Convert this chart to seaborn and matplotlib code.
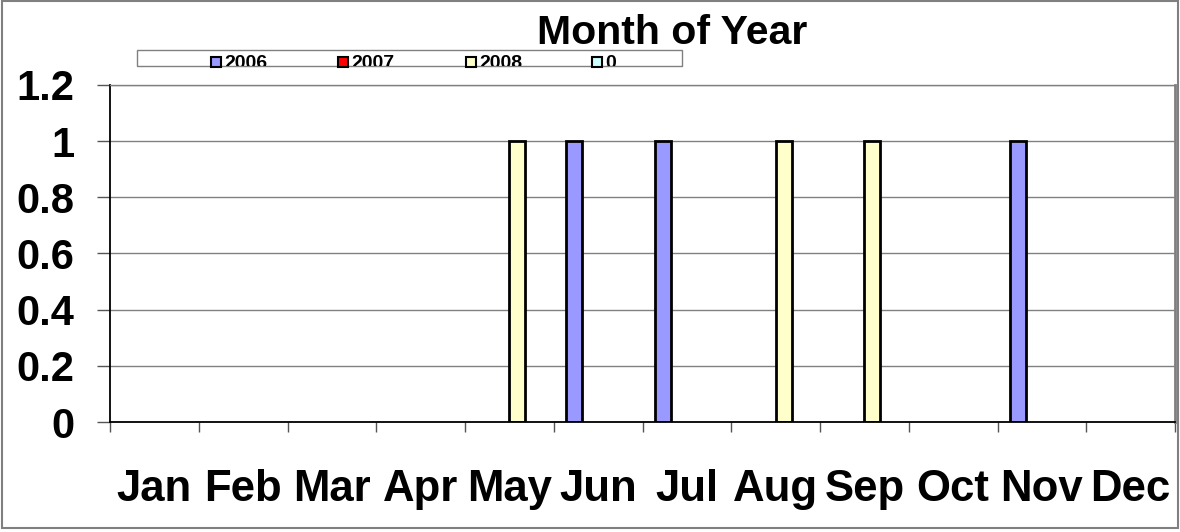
import matplotlib
matplotlib.use("Agg")
import matplotlib.pyplot as plt
from matplotlib.patches import Rectangle
import numpy as np
import pandas as pd
import seaborn as sns

# Occurrences per month, one list per series
months = ["Jan", "Feb", "Mar", "Apr", "May", "Jun", "Jul", "Aug", "Sep", "Oct", "Nov", "Dec"]
series_names = ["2006", "2007", "2008", "0"]
counts_2006 = [0, 0, 0, 0, 0, 1, 1, 0, 0, 0, 1, 0]
counts_2007 = [0, 0, 0, 0, 0, 0, 0, 0, 0, 0, 0, 0]
counts_2008 = [0, 0, 0, 0, 1, 0, 0, 1, 1, 0, 0, 0]
counts_0 = [0, 0, 0, 0, 0, 0, 0, 0, 0, 0, 0, 0]
series_colors = ["#9999FF", "#FF0000", "#FFFFCC", "#CCFFFF"]
y_ticks = [0, 0.2, 0.4, 0.6, 0.8, 1.0, 1.2]
y_tick_labels = ["0", "0.2", "0.4", "0.6", "0.8", "1", "1.2"]

df = pd.DataFrame({
    "Month": months * 4,
    "Series": [s for s in series_names for _ in months],
    "Count": counts_2006 + counts_2007 + counts_2008 + counts_0,
})

sns.set_style("white")
plt.rcParams["font.family"] = ["Liberation Sans", "DejaVu Sans"]
plt.rcParams["font.weight"] = "bold"
plt.rcParams["text.color"] = "black"
plt.rcParams["xtick.color"] = "black"
plt.rcParams["ytick.color"] = "black"
plt.rcParams["xtick.labelcolor"] = "black"
plt.rcParams["ytick.labelcolor"] = "black"

W, H = 1180, 532
fig = plt.figure(figsize=(W / 100, H / 100), dpi=100)
ax = fig.add_axes([110 / W, 1 - 422 / H, 1065 / W, 337 / H])

sns.barplot(data=df, x="Month", y="Count", hue="Series", order=months,
            hue_order=series_names, palette=series_colors, width=0.7256,
            edgecolor="black", linewidth=2, errorbar=None, legend=False,
            saturation=1, ax=ax)

# empty bars are not drawn
for p in ax.patches:
    if p.get_height() == 0:
        p.set_visible(False)

ax.set_xlim(-0.5, 11.5)
ax.set_ylim(0, 1.2)
ax.set_xlabel("")
ax.set_ylabel("")
ax.set_yticks(y_ticks)
ax.set_yticklabels(y_tick_labels)
ax.yaxis.grid(True, color="#808080", linewidth=1)
ax.xaxis.grid(False)
ax.set_axisbelow(True)

for side in ["left", "bottom"]:
    ax.spines[side].set_color("black")
    ax.spines[side].set_linewidth(1.3)
ax.spines["right"].set_color("#808080")
ax.spines["right"].set_linewidth(2)
ax.spines["top"].set_color("#808080")
ax.spines["top"].set_linewidth(1)

ax.tick_params(axis="y", direction="out", left=True, length=9.5, width=1,
               color="#555555", pad=16, labelsize=30, labelcolor="black")
ax.set_xticks(np.arange(-0.5, 12, 1), minor=True)
ax.tick_params(axis="x", which="major", bottom=True, length=0, pad=34,
               labelsize=31.5, labelcolor="black")
ax.tick_params(axis="x", which="minor", bottom=True, direction="out", length=7.5,
               width=1, color="#555555")
for lbl in ax.get_xticklabels() + ax.get_yticklabels():
    lbl.set_fontweight("bold")

fig.text(672 / W, 1 - 33 / H, "Month of Year", ha="center", va="center",
         fontsize=29.5, fontweight="bold", color="black")

# legend strip
box = (137 / W, 1 - 66 / H)
box_w, box_h = (682 - 137) / W, 16 / H
fig.add_artist(Rectangle(box, box_w, box_h, transform=fig.transFigure,
                         fill=False, edgecolor="#808080", linewidth=1))
clip = Rectangle(box, box_w, box_h, transform=fig.transFigure)
marker_x = [211, 338, 466, 592]
for mx, name, col in zip(marker_x, series_names, series_colors):
    fig.add_artist(Rectangle((mx / W, 1 - 67 / H), 10 / W, 10 / H,
                             transform=fig.transFigure, facecolor=col,
                             edgecolor="black", linewidth=1.5))
    t = fig.text((mx + 13) / W, 1 - 68.5 / H, name, ha="left", va="baseline",
                 fontsize=14, fontweight="bold", color="black")
    t.set_clip_path(clip)

# outer frame
fig.add_artist(Rectangle((2 / W, 4 / H), 1176 / W, 527 / H, transform=fig.transFigure,
                         fill=False, edgecolor="#808080", linewidth=1.5))

fig.savefig("out.png", dpi=100)
